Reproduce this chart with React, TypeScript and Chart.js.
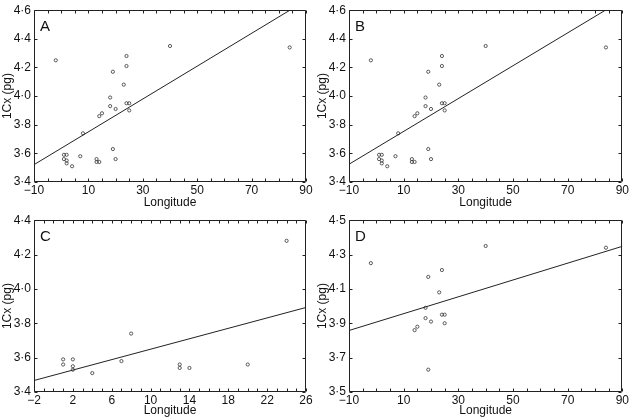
import React, { useEffect, useRef } from "react";
import { Chart, registerables } from "chart.js";
Chart.register(...registerables);

// ---- data ----
const LON_C = [1, 1, 2, 2, 2, 4, 7, 8, 13, 13, 14, 20, 24];
const CX_C = [3.59, 3.56, 3.59, 3.55, 3.53, 3.51, 3.58, 3.74, 3.56, 3.54, 3.54, 3.56, 4.28];
const LON_D = [-2, 40, 84, 24, 19, 23, 18, 18, 20, 24, 25, 25, 14, 15, 19];
const CX_D = [4.25, 4.35, 4.34, 4.21, 4.17, 4.08, 3.99, 3.93, 3.91, 3.95, 3.95, 3.9, 3.86, 3.88, 3.63];
const LON_ALL = [...LON_C, ...LON_D];
const CX_ALL = [...CX_C, ...CX_D];

const FIT_A_X = [-10, 90];
const FIT_A_Y = [3.521, 4.668];
const FIT_B_X = [-10, 90];
const FIT_B_Y = [3.524, 4.671];
const FIT_C_X = [-2, 26];
const FIT_C_Y = [3.467, 3.892];
const FIT_D_X = [-10, 90];
const FIT_D_Y = [3.858, 4.348];

const XTICKS_WIDE = [-10, 10, 30, 50, 70, 90];
const XTICKS_C = [-2, 2, 6, 10, 14, 18, 22, 26];
const YTICKS_AB = [3.4, 3.6, 3.8, 4.0, 4.2, 4.4, 4.6];
const YTICKS_C = [3.4, 3.6, 3.8, 4.0, 4.2, 4.4];
const YTICKS_D = [3.5, 3.7, 3.9, 4.1, 4.3, 4.5];

const FONT = "'Liberation Sans', Arial, sans-serif";

function fmt(v: number): string {
  const s = (Math.round(v * 10) / 10).toString();
  return s.replace("-", "\u2212").replace(".", "\u00b7");
}
function fmtY(v: number): string {
  return v.toFixed(1).replace(".", "\u00b7");
}

const framePlugin = {
  id: "frame",
  afterDraw(chart: any, _args: any, opts: any) {
    const { ctx, chartArea } = chart;
    const { left, right, top, bottom } = chartArea;
    const xs = chart.scales.x;
    const ys = chart.scales.y;
    ctx.save();
    ctx.strokeStyle = "#222";
    ctx.lineWidth = 1;
    ctx.beginPath();
    const L = Math.round(left) + 0.5, R = Math.round(right) - 0.5;
    const T = Math.round(top) + 0.5, B = Math.round(bottom) - 0.5;
    ctx.rect(L, T, R - L, B - T);
    const step = opts.minorStep;
    for (let v = xs.min; v <= xs.max + 1e-9; v += step) {
      const px = Math.round(xs.getPixelForValue(v)) + 0.5;
      const len = 3;
      ctx.moveTo(px, B);
      ctx.lineTo(px, B - len);
      ctx.moveTo(px, T);
      ctx.lineTo(px, T + len);
    }
    for (const t of ys.ticks) {
      const py = Math.round(ys.getPixelForValue(t.value)) + 0.5;
      ctx.moveTo(L, py);
      ctx.lineTo(L + 3, py);
      ctx.moveTo(R, py);
      ctx.lineTo(R - 3, py);
    }
    ctx.stroke();
    ctx.fillStyle = "#111";
    ctx.font = `15px ${FONT}`;
    ctx.textBaseline = "top";
    ctx.textAlign = "left";
    ctx.fillText(opts.label, left + 6, top + 9);
    ctx.restore();
  },
};

type PanelProps = {
  label: string;
  lon: number[];
  cx: number[];
  fitX: number[];
  fitY: number[];
  xMin: number;
  xMax: number;
  xTicks: number[];
  minorStep: number;
  yMin: number;
  yMax: number;
  yTicks: number[];
  width: number;
  height: number;
  rightPad: number;
};

function Panel(p: PanelProps) {
  const ref = useRef<HTMLCanvasElement | null>(null);
  useEffect(() => {
    if (!ref.current) return;
    const chart = new Chart(ref.current, {
      type: "scatter",
      data: {
        datasets: [
          {
            type: "line",
            data: p.fitX.map((x, i) => ({ x, y: p.fitY[i] })),
            borderColor: "#222",
            borderWidth: 1,
            pointRadius: 0,
            fill: false,
            tension: 0,
          } as any,
          {
            type: "scatter",
            data: p.lon.map((x, i) => ({ x, y: p.cx[i] })),
            pointStyle: "circle",
            pointRadius: 1.6,
            borderColor: "#333",
            borderWidth: 0.8,
            backgroundColor: "rgba(0,0,0,0)",
          },
        ],
      },
      options: {
        responsive: false,
        animation: false,
        devicePixelRatio: 1,
        layout: { padding: { left: 0, right: p.rightPad, top: 4, bottom: 0 } },
        plugins: {
          legend: { display: false },
          tooltip: { enabled: false },
          frame: { label: p.label, minorStep: p.minorStep },
        } as any,
        scales: {
          x: {
            type: "linear",
            min: p.xMin,
            max: p.xMax,
            afterBuildTicks: (s: any) => {
              s.ticks = p.xTicks.map((v) => ({ value: v }));
            },
            afterFit: (s: any) => {
              s.height = p.height - 182;
            },
            ticks: {
              callback: (v: any) => fmt(Number(v)),
              font: { family: FONT, size: 12 },
              color: "#111",
              padding: 1,
              maxRotation: 0,
              autoSkip: false,
            },
            grid: { display: false, drawTicks: false },
            border: { display: false },
            title: {
              display: true,
              text: "Longitude",
              font: { family: FONT, size: 12 },
              color: "#111",
              padding: { top: -3, bottom: 0 },
            },
          },
          y: {
            type: "linear",
            min: p.yMin,
            max: p.yMax,
            afterBuildTicks: (s: any) => {
              s.ticks = p.yTicks.map((v) => ({ value: v }));
            },
            afterFit: (s: any) => {
              s.width = 34;
            },
            ticks: {
              callback: (v: any) => fmtY(Number(v)),
              font: { family: FONT, size: 12 },
              color: "#111",
              padding: 3,
              autoSkip: false,
            },
            grid: { display: false, drawTicks: false },
            border: { display: false },
            title: {
              display: true,
              text: "1Cx (pg)",
              font: { family: FONT, size: 12 },
              color: "#111",
              padding: { top: 0, bottom: 0 },
            },
          },
        },
      } as any,
      plugins: [framePlugin],
    });
    return () => chart.destroy();
  }, []);
  return <canvas ref={ref} width={p.width} height={p.height} style={{ display: "block" }} />;
}

export default function App() {
  useEffect(() => {
    document.body.style.margin = "0";
    document.body.style.background = "#fff";
  }, []);
  return (
    <div style={{ position: "relative", width: 630, height: 418, background: "#fff" }}>
      <div style={{ position: "absolute", left: 0, top: 0 }}>
        <Panel label="A" lon={LON_ALL} cx={CX_ALL} fitX={FIT_A_X} fitY={FIT_A_Y} xMin={-10} xMax={90}
          xTicks={XTICKS_WIDE} minorStep={5} yMin={3.4} yMax={4.6} yTicks={YTICKS_AB}
          width={315} height={210} rightPad={9} />
      </div>
      <div style={{ position: "absolute", left: 315, top: 0 }}>
        <Panel label="B" lon={LON_ALL} cx={CX_ALL} fitX={FIT_B_X} fitY={FIT_B_Y} xMin={-10} xMax={90}
          xTicks={XTICKS_WIDE} minorStep={5} yMin={3.4} yMax={4.6} yTicks={YTICKS_AB}
          width={315} height={210} rightPad={5} />
      </div>
      <div style={{ position: "absolute", left: 0, top: 210 }}>
        <Panel label="C" lon={LON_C} cx={CX_C} fitX={FIT_C_X} fitY={FIT_C_Y} xMin={-2} xMax={26}
          xTicks={XTICKS_C} minorStep={1} yMin={3.4} yMax={4.4} yTicks={YTICKS_C}
          width={315} height={208} rightPad={9} />
      </div>
      <div style={{ position: "absolute", left: 315, top: 210 }}>
        <Panel label="D" lon={LON_D} cx={CX_D} fitX={FIT_D_X} fitY={FIT_D_Y} xMin={-10} xMax={90}
          xTicks={XTICKS_WIDE} minorStep={5} yMin={3.5} yMax={4.5} yTicks={YTICKS_D}
          width={315} height={208} rightPad={5} />
      </div>
    </div>
  );
}
